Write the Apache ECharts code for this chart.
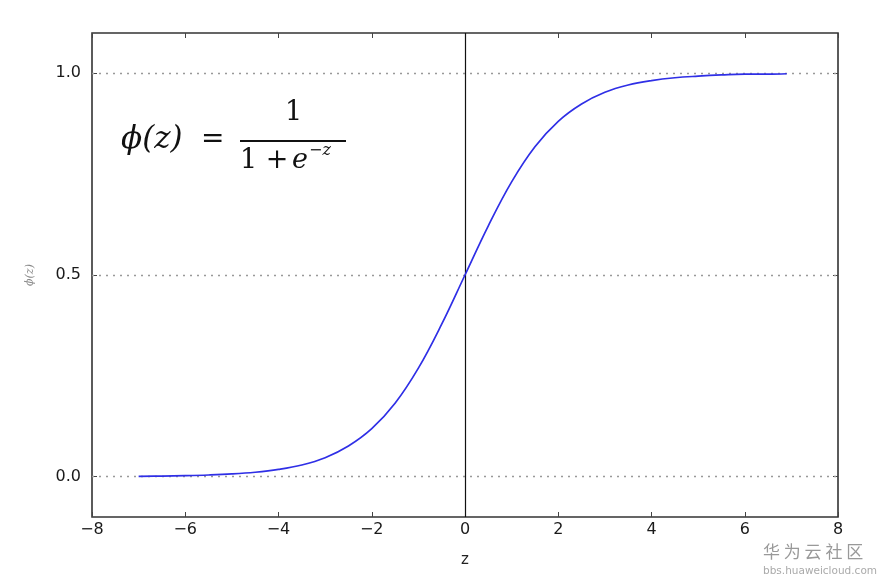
<!DOCTYPE html>
<html>
<head>
<meta charset="utf-8">
<script src="https://cdn.jsdelivr.net/npm/echarts@6/dist/echarts.min.js"></script>
<style>html,body{margin:0;padding:0;background:#fff;}#c{width:884px;height:587px;}</style>
</head>
<body>
<div id="c"></div>
<script>
const zValues = [-7, -6.5, -6, -5.5, -5, -4.5, -4, -3.5, -3, -2.5, -2, -1.5, -1, -0.5, 0, 0.5, 1, 1.5, 2, 2.5, 3, 3.5, 4, 4.5, 5, 5.5, 6, 6.5, 6.9];
const phiValues = [0.0009, 0.0015, 0.0025, 0.0041, 0.0067, 0.011, 0.018, 0.029, 0.047, 0.076, 0.119, 0.182, 0.269, 0.378, 0.5, 0.622, 0.731, 0.818, 0.881, 0.924, 0.953, 0.971, 0.982, 0.989, 0.993, 0.996, 0.998, 0.998, 0.999];
const yTicks = [0.0, 0.5, 1.0];
const xTicks = [-8, -6, -4, -2, 0, 2, 4, 6, 8];

const curve = zValues.map((z, i) => [z, phiValues[i]]);

const chart = echarts.init(document.getElementById('c'), null, {renderer: 'canvas'});
const tickLabelStyle = {fontFamily: 'DejaVu Sans', fontSize: 16, color: '#1a1a1a'};
const hidden = {show: false, onZero: false};
chart.setOption({
  animation: false,
  backgroundColor: '#fff',
  grid: {left: 92, right: 46, top: 33, bottom: 70, show: true, borderColor: '#333', borderWidth: 1.6, backgroundColor: 'transparent'},
  xAxis: [{
    type: 'value', min: -8, max: 8, interval: 2, position: 'bottom',
    name: 'z', nameLocation: 'middle', nameGap: 36,
    nameTextStyle: {fontFamily: 'DejaVu Sans', fontSize: 15, color: '#222'},
    axisLine: hidden,
    axisTick: {show: true, inside: true, length: 5, lineStyle: {color: '#444'}},
    axisLabel: Object.assign({margin: 5, formatter: v => (v < 0 ? '\u2212' + Math.abs(v) : '' + v)}, tickLabelStyle),
    splitLine: {show: false}
  }, {
    type: 'value', min: -8, max: 8, interval: 2, position: 'top',
    axisLine: hidden,
    axisTick: {show: true, inside: true, length: 5, lineStyle: {color: '#444'}},
    axisLabel: {show: false}, splitLine: {show: false}
  }],
  yAxis: [{
    type: 'value', min: -0.1, max: 1.1, position: 'left',
    name: '\u03D5(z)', nameLocation: 'middle', nameGap: 56, nameRotate: 90,
    nameTextStyle: {fontFamily: 'DejaVu Serif', fontStyle: 'italic', fontSize: 11, color: '#888'},
    axisLine: hidden,
    axisTick: {show: true, inside: true, length: 5, customValues: yTicks, lineStyle: {color: '#444'}},
    axisLabel: Object.assign({margin: 11, customValues: yTicks, formatter: v => v.toFixed(1)}, tickLabelStyle),
    splitLine: {show: false}
  }, {
    type: 'value', min: -0.1, max: 1.1, position: 'right',
    axisLine: hidden,
    axisTick: {show: true, inside: true, length: 5, customValues: yTicks, lineStyle: {color: '#444'}},
    axisLabel: {show: false}, splitLine: {show: false}
  }],
  series: [{
    type: 'line', data: [], xAxisIndex: 0, yAxisIndex: 0, silent: true,
    markLine: {
      silent: true, symbol: 'none', label: {show: false}, animation: false,
      lineStyle: {color: '#999', width: 1.3, type: [2, 5]},
      data: yTicks.map(v => ({yAxis: v}))
    }
  }, {
    type: 'line', data: curve, xAxisIndex: 0, yAxisIndex: 0, smooth: 0.4,
    showSymbol: false, symbol: 'none',
    lineStyle: {color: '#2f2fe6', width: 1.7}, z: 5,
    markLine: {
      silent: true, symbol: 'none', label: {show: false}, animation: false,
      lineStyle: {color: '#111', width: 1.2, type: 'solid'},
      data: [{xAxis: 0}]
    }
  }],
  graphic: [
    {type: 'text', left: 121, top: 124, style: {text: '\u03D5(z)', font: 'italic 31px "DejaVu Serif"', fill: '#111'}},
    {type: 'text', left: 201, top: 126, style: {text: '=', font: '28px "DejaVu Serif"', fill: '#111'}},
    {type: 'text', left: 285, top: 99, style: {text: '1', font: '27px "DejaVu Serif"', fill: '#111'}},
    {type: 'rect', shape: {x: 240, y: 140, width: 106, height: 2}, style: {fill: '#111'}},
    {type: 'text', left: 240, top: 147, style: {text: '1 +', font: '27px "DejaVu Serif"', fill: '#111'}},
    {type: 'text', left: 292, top: 147, style: {text: 'e', font: 'italic 27px "DejaVu Serif"', fill: '#111'}},
    {type: 'text', left: 309, top: 143, style: {text: '\u2212z', font: 'italic 16px "DejaVu Serif"', fill: '#111'}},
    {type: 'text', left: 763, top: 543, style: {text: '华 为 云 社 区', font: '17px "Noto Sans CJK SC"', fill: '#999'}},
    {type: 'text', left: 763, top: 566, style: {text: 'bbs.huaweicloud.com', font: '10.5px "DejaVu Sans"', fill: '#aaa'}}
  ]
});
</script>
</body>
</html>
